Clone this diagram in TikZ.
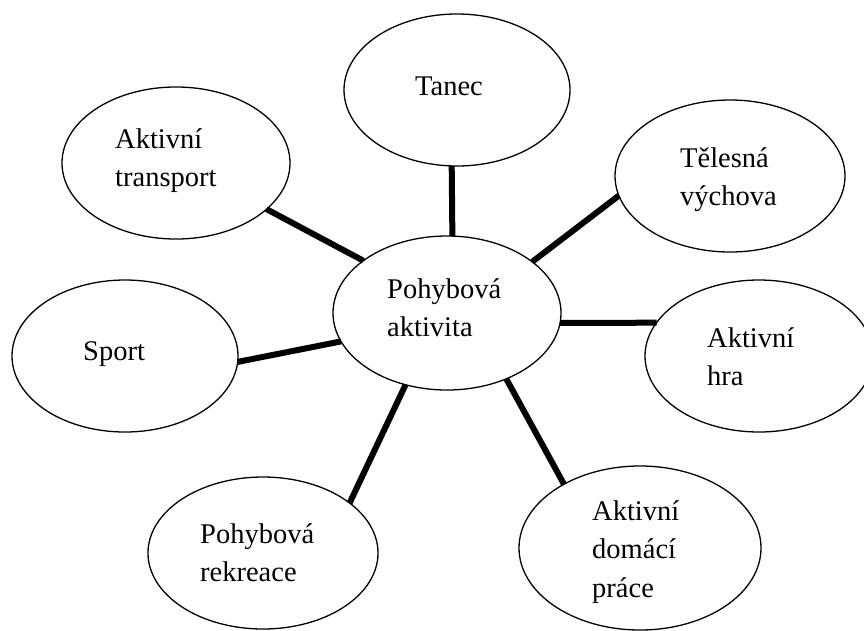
\documentclass[tikz,border=0pt]{standalone}
\usepackage{fontspec}
\setmainfont{Liberation Serif}
\usetikzlibrary{shapes.geometric}
\begin{document}
\begin{tikzpicture}[x=1pt,y=-1pt,
  bubble/.style={draw, ellipse, line width=1.3pt, inner sep=0pt, outer sep=0pt},
  lbl/.style={anchor=base west, inner sep=0pt, font=\fontsize{28.5}{38.5}\selectfont},
  link/.style={line width=6pt}]
\useasboundingbox (0,0) rectangle (864,630);
\clip (0,0) rectangle (864,630);
\fill[white] (0,0) rectangle (864,630);
% ellipses
\node[bubble, minimum width=226pt, minimum height=152pt] (tanec)     at (457,90)  {};
\node[bubble, minimum width=228pt, minimum height=152pt] (transport) at (176,163) {};
\node[bubble, minimum width=230pt, minimum height=152pt] (telesna)   at (730,176) {};
\node[bubble, minimum width=228pt, minimum height=154pt] (center)    at (447,313) {};
\node[bubble, minimum width=226pt, minimum height=152pt] (sport)     at (125,356) {};
\node[bubble, minimum width=228pt, minimum height=152pt] (hra)       at (759,356) {};
\node[bubble, minimum width=230pt, minimum height=152pt] (rekreace)  at (263,553) {};
\node[bubble, minimum width=242pt, minimum height=164pt] (domaci)    at (640,548) {};
% connectors
\draw[link] (transport.-27.6) -- (center.148.1);
\draw[link] (tanec.266) -- (center.86.2);
\draw[link] (telesna.190.3) -- (center.31.6);
\draw[link] (sport.-3.5) -- (center.195.6);
\draw[link] (center.-5) -- (hra.162.8);
\draw[link] (center.240.6) -- (rekreace.30);
\draw[link] (center.-48.8) -- (domaci.140.9);
% labels
\node[lbl] (tanecT)     at (415,95)  {Tanec};
\node[lbl] (transportT) at (115,148) {\begin{tabular}[t]{@{}l@{}}Aktivní\\transport\end{tabular}};
\node[lbl] (telesnaT)   at (680,167) {\begin{tabular}[t]{@{}l@{}}Tělesná\\výchova\end{tabular}};
\node[lbl] (centerT)    at (387,298) {\begin{tabular}[t]{@{}l@{}}Pohybová\\aktivita\end{tabular}};
\node[lbl] (sportT)     at (83,360)  {Sport};
\node[lbl] (hraT)       at (707,347) {\begin{tabular}[t]{@{}l@{}}Aktivní\\hra\end{tabular}};
\node[lbl] (rekreaceT)  at (200,543) {\begin{tabular}[t]{@{}l@{}}Pohybová\\rekreace\end{tabular}};
\node[lbl] (domaciT)    at (592,520) {\begin{tabular}[t]{@{}l@{}}Aktivní\\domácí\\práce\end{tabular}};
\end{tikzpicture}
\end{document}
